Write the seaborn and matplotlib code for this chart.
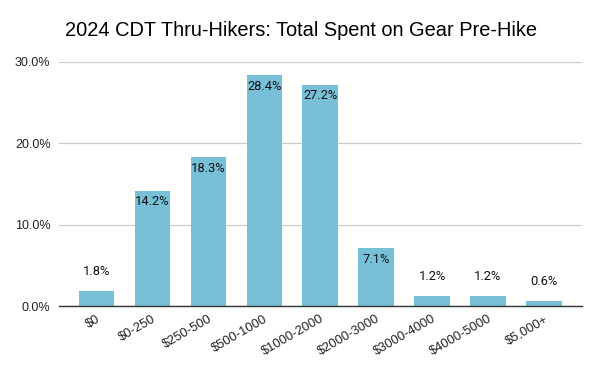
import matplotlib
matplotlib.use("Agg")
import matplotlib.pyplot as plt
import seaborn as sns
import pandas as pd
from matplotlib.ticker import FuncFormatter

categories = ["$0", "$0-250", "$250-500", "$500-1000", "$1000-2000",
              "$2000-3000", "$3000-4000", "$4000-5000", "$5,000+"]
values = [1.8, 14.2, 18.3, 28.4, 27.2, 7.1, 1.2, 1.2, 0.6]
title = "2024 CDT Thru-Hikers: Total Spent on Gear Pre-Hike"

df = pd.DataFrame({"cat": categories, "val": values})

sns.set_theme(style="white")
plt.rcParams["font.family"] = ["Liberation Sans", "DejaVu Sans"]

fig = plt.figure(figsize=(6, 3.71), dpi=100)
ax = fig.add_axes([0.098, 0.175, 0.872, 0.658])

sns.barplot(data=df, x="cat", y="val", color="#78c0d8", saturation=1,
            width=0.63, linewidth=0, ax=ax)

ax.set_ylim(0, 30)
ax.set_yticks([0, 10, 20, 30])
ax.yaxis.set_major_formatter(FuncFormatter(lambda v, p: f"{v:.1f}%"))
ax.grid(axis="y", color="#cccccc", linewidth=0.9)
ax.set_axisbelow(True)
for s in ["top", "right", "left"]:
    ax.spines[s].set_visible(False)
ax.spines["bottom"].set_color("#333333")
ax.spines["bottom"].set_linewidth(1.0)
ax.set_xlim(-0.67, len(categories) - 0.32)
ax.set_xlabel("")
ax.set_ylabel("")
ax.tick_params(axis="y", labelsize=9, colors="#222222", length=0, pad=6)
ax.tick_params(axis="x", labelsize=9.3, colors="#222222", length=0, pad=5)
for lab in ax.get_xticklabels():
    lab.set_rotation(30)
    lab.set_ha("right")
    lab.set_rotation_mode("anchor")

for p, v in zip(ax.patches, values):
    x = p.get_x() + p.get_width() / 2
    off = -8 if v > 5 else 14
    ax.annotate(f"{v:.1f}%", (x, v), xytext=(0, off), textcoords="offset points",
                ha="center", va="center", fontsize=9.3, family=["Roboto", "DejaVu Sans"],
                color="#111111")

fig.text(0.108, 0.918, title, fontsize=14.4, color="#000000", ha="left", va="center")

fig.savefig("out.png", dpi=100, facecolor="white")
